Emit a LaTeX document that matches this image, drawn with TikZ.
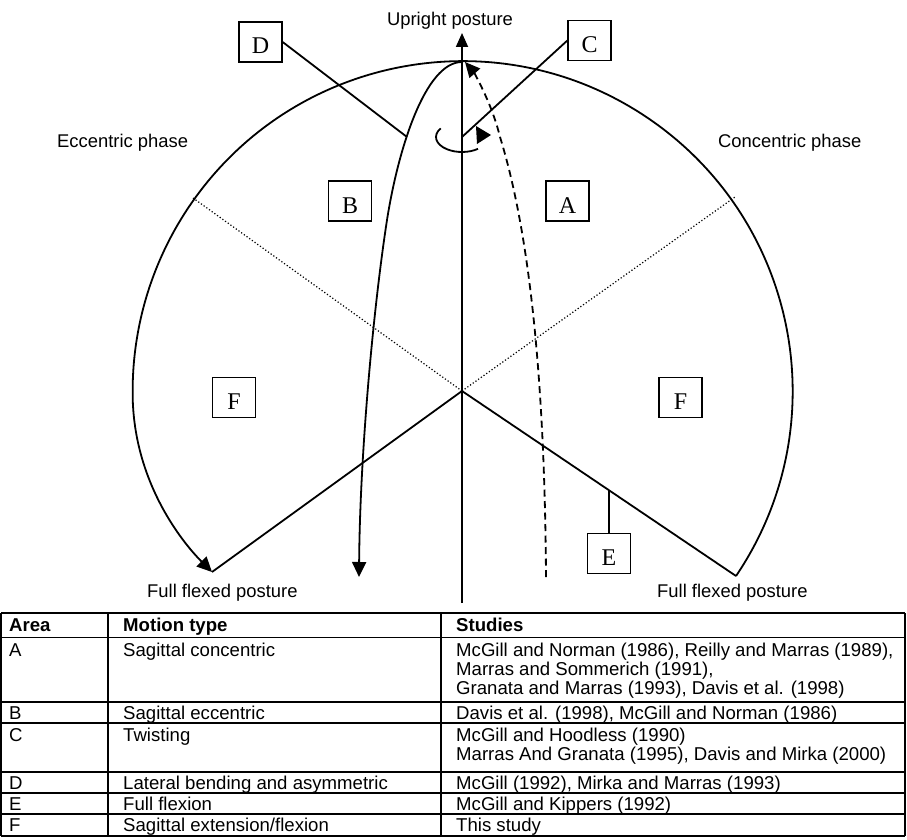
\documentclass[tikz,border=0pt]{standalone}
\usepackage{fontspec}
\setmainfont{Liberation Sans}
\newfontfamily\serifbox{Liberation Serif}
\usetikzlibrary{arrows.meta}
\begin{document}
\begin{tikzpicture}[x=1pt,y=-1pt,
  every node/.style={inner sep=0pt},
  ln/.style={line width=1.8pt},
  dotln/.style={line width=1.2pt, dash pattern=on 1.2pt off 2.1pt},
  dashln/.style={line width=1.8pt, dash pattern=on 7pt off 4.5pt},
  headarrow/.style={-{Triangle[length=15pt,width=14pt]}},
  lbl/.style={anchor=base west, font=\fontsize{18.4}{22}\selectfont},
  tb/.style={anchor=base west, font=\fontsize{18.6}{21}\selectfont},
  tbh/.style={anchor=base west, font=\fontsize{18.6}{21}\selectfont\bfseries},
  tline/.style={line width=1.6pt},
  letterbox/.style={draw, line width=1.3pt, minimum width=43pt, minimum height=40pt,
    text height=24pt, text depth=0pt, font=\serifbox\fontsize{24}{26}\selectfont},
]
\useasboundingbox (0,0) rectangle (907,840);

% key points
\coordinate (O) at (462,391);
\coordinate (Top) at (462,62);
\coordinate (Rend) at (736,576);
\coordinate (Ltip) at (212,572);
\coordinate (Ldot) at (193,198);
\coordinate (Rdot) at (735,197);
\coordinate (AxB) at (462,603);
\coordinate (AxT) at (462,33);
\coordinate (RC) at (462,137);
\coordinate (Dend) at (407,137);
\coordinate (Eon) at (609,490.5);

% boxes
\node[letterbox] (D) at (260.5,42) {D};
\node[letterbox] (C) at (589.5,40.5) {C};
\node[letterbox] (B) at (350,201) {B};
\node[letterbox] (A) at (567.5,201) {A};
\node[letterbox] (FL) at (234,397.5) {F};
\node[letterbox] (FR) at (680.5,397.5) {F};
\node[letterbox] (E) at (609,553.5) {E};

% labels
\node[lbl, anchor=base] (up) at (450,26) {Upright posture};
\node[lbl] (ecc) at (57,147) {Eccentric phase};
\node[lbl] (con) at (718,147) {Concentric phase};
\node[lbl] (ffl) at (147,597) {Full flexed posture};
\node[lbl] (ffr) at (657,597) {Full flexed posture};

% big arc
\draw[ln, headarrow] (Rend) arc[start angle=34.07, end angle=-180, radius=330]
  .. controls (132,480) and (182,542) .. (Ltip);
% radial lines
\draw[ln] (O) -- (Ltip);
\draw[ln] (O) -- (Rend);
\draw[dotln] (O) -- (Ldot);
\draw[dotln] (O) -- (Rdot);
% vertical axis
\draw[ln, -{Triangle[length=14pt,width=12pt]}] (AxB) -- (AxT);
% B curve (eccentric)
\draw[ln, headarrow] (Top) .. controls (425,62) and (398,150) .. (387,220)
  .. controls (374,304) and (360,450) .. (359,577);
% dashed curve (concentric)
\draw[dashln, headarrow] (546,577) .. controls (545,420) and (535,250) .. (500,137)
  .. controls (491,100) and (472,70) .. (465,62);
% twisting arrow
\draw[ln] (RC) ++(215:26 and 15) arc[start angle=215, end angle=52, x radius=26, y radius=15];
\fill (476,126) -- (491,135) -- (477,144) -- cycle;
% leader lines
\draw[ln] (C.west) -- (RC);
\draw[ln] (D.east) -- (Dend);
\draw[ln] (E.north) -- (Eon);

% table
\foreach \yy in {613,637.5,702,723,772,793,814,836}
  \draw[tline] (1,\yy) -- (905,\yy);
\foreach \xx in {1,108,441,905}
  \draw[tline] (\xx,613) -- (\xx,836);

\node[tbh] (h1) at (9,631.5) {Area};
\node[tbh] (h2) at (123,631.5) {Motion type};
\node[tbh] (h3) at (456,631.5) {Studies};

\node[tb] (a1) at (9,656) {A};
\node[tb] (a2) at (123,656) {Sagittal concentric};
\node[tb] (a3) at (456,656) {McGill and Norman (1986), Reilly and Marras (1989),};
\node[tb] (a4) at (456,675) {Marras and Sommerich (1991),};
\node[tb] (a5) at (456,694) {Granata and Marras (1993), Davis et al. (1998)};

\node[tb] (b1) at (9,719) {B};
\node[tb] (b2) at (123,719) {Sagittal eccentric};
\node[tb] (b3) at (456,719) {Davis et al. (1998), McGill and Norman (1986)};

\node[tb] (c1) at (9,741.5) {C};
\node[tb] (c2) at (123,741.5) {Twisting};
\node[tb] (c3) at (456,741.5) {McGill and Hoodless (1990)};
\node[tb] (c4) at (456,760.5) {Marras And Granata (1995), Davis and Mirka (2000)};

\node[tb] (d1) at (9,789) {D};
\node[tb] (d2) at (123,789) {Lateral bending and asymmetric};
\node[tb] (d3) at (456,789) {McGill (1992), Mirka and Marras (1993)};

\node[tb] (e1) at (9,810) {E};
\node[tb] (e2) at (123,810) {Full flexion};
\node[tb] (e3) at (456,810) {McGill and Kippers (1992)};

\node[tb] (f1) at (9,831.5) {F};
\node[tb] (f2) at (123,831.5) {Sagittal extension/flexion};
\node[tb] (f3) at (456,831.5) {This study};
\end{tikzpicture}
\end{document}
